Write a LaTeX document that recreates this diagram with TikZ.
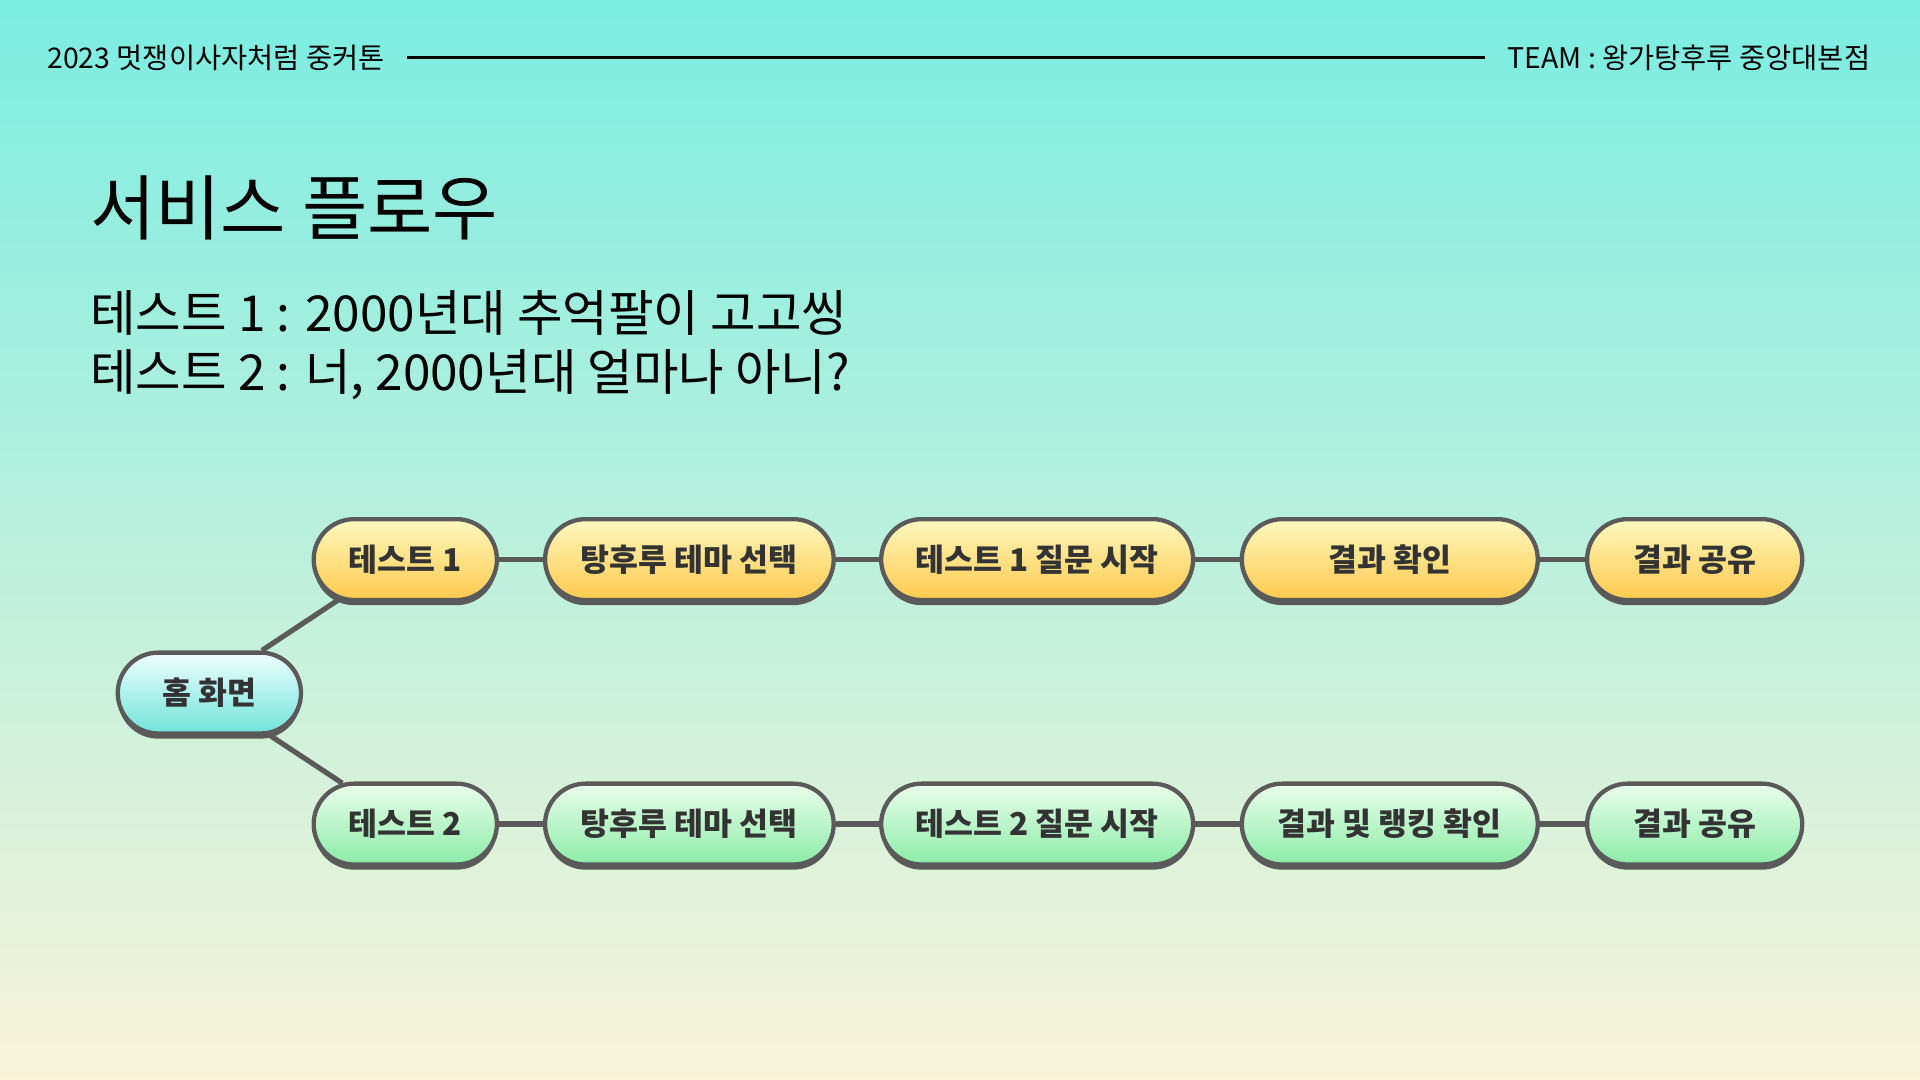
\documentclass[tikz,border=0pt]{standalone}
\usepackage{fontspec}
\setmainfont{Noto Sans CJK KR}
\usetikzlibrary{shapes.misc,shadows,positioning}
\definecolor{bgtop}{HTML}{7BEDE2}
\definecolor{bgbot}{HTML}{F9F3D8}
\definecolor{edge}{HTML}{5A5A5A}
\definecolor{greenbot}{HTML}{8CEBA8}
\definecolor{homebot}{HTML}{6FE3D9}
\tikzset{
  pill/.style={rounded rectangle, draw=edge, line width=1pt, minimum height=0.66cm,
    font=\fontsize{7.3}{8}\selectfont\bfseries, text=black!80,
    drop shadow={shadow xshift=0pt, shadow yshift=-1.2pt, fill=edge, opacity=1}},
  orange/.style={pill, top color=orange!20!yellow!25, bottom color=orange!60!yellow!70},
  green/.style={pill, top color=green!8, bottom color=greenbot},
  home/.style={pill, top color=cyan!6, bottom color=homebot},
  link/.style={draw=edge, line width=1.2pt},
  txt/.style={anchor=west, inner sep=0pt}
}
\begin{document}
\begin{tikzpicture}[x=0.01cm,y=-0.01cm]
\useasboundingbox (0,0) rectangle (1568,882);
\shade[top color=bgtop, bottom color=bgbot] (0,0) rectangle (1568,882);

% header
\node (hl) at (38,47) [txt,font=\fontsize{6.6}{7}\selectfont] {2023 멋쟁이사자처럼 중커톤};
\node (hr) at (1528,47) [txt,anchor=east,font=\fontsize{6.6}{7}\selectfont] {TEAM : 왕가탕후루 중앙대본점};
\draw[line width=0.5pt] ([xshift=5pt]hl.east) -- ([xshift=-5pt]hr.west);

% title
\node (title) at (73,170) [txt,font=\fontsize{16.5}{18}\selectfont] {서비스 플로우};
\node (sub1) at (73,256) [txt,font=\fontsize{11.5}{13}\selectfont] {테스트 1 : 2000년대 추억팔이 고고씽};
\node (sub2) at (73,306) [txt,font=\fontsize{11.5}{13}\selectfont] {테스트 2 : 너, 2000년대 얼마나 아니?};

% nodes
\node[home, minimum width=1.73cm] (home) at (171,566) {홈 화면};

\node[orange, minimum width=1.73cm] (a1) at (331,457) {테스트 1};
\node[orange, minimum width=2.59cm] (a2) at (563,457) {탕후루 테마 선택};
\node[orange, minimum width=2.78cm] (a3) at (847,457) {테스트 1 질문 시작};
\node[orange, minimum width=2.65cm] (a4) at (1135,457) {결과 확인};
\node[orange, minimum width=1.99cm] (a5) at (1384,457) {결과 공유};

\node[green, minimum width=1.73cm] (b1) at (331,673) {테스트 2};
\node[green, minimum width=2.59cm] (b2) at (563,673) {탕후루 테마 선택};
\node[green, minimum width=2.78cm] (b3) at (847,673) {테스트 2 질문 시작};
\node[green, minimum width=2.65cm] (b4) at (1135,673) {결과 및 랭킹 확인};
\node[green, minimum width=1.99cm] (b5) at (1384,673) {결과 공유};

% links
\draw[link] (home.39) -- (a1.211);
\draw[link] (home.-35) -- (b1.147);
\foreach \r in {a,b} {
  \foreach \i/\j in {1/2,2/3,3/4,4/5} {
    \draw[link] (\r\i.east) -- (\r\j.west);
  }
}
\end{tikzpicture}
\end{document}
